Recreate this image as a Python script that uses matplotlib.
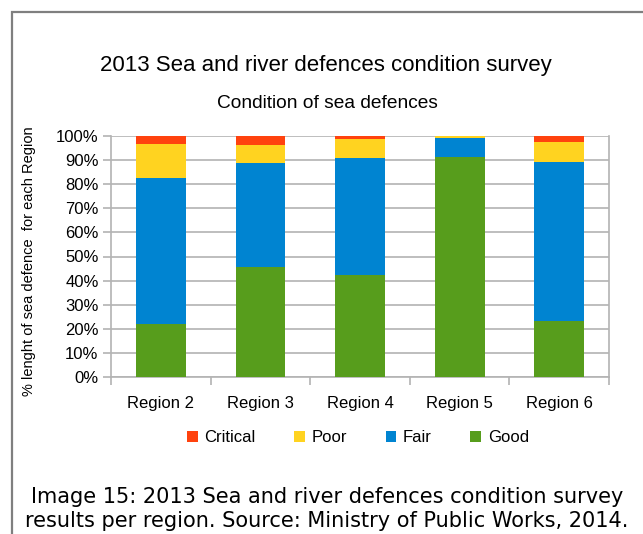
import matplotlib
matplotlib.use("Agg")
import numpy as np
from matplotlib import pyplot as plt
from matplotlib.patches import Rectangle

# data
regions = ["Region 2", "Region 3", "Region 4", "Region 5", "Region 6"]
good = [22.1, 45.6, 42.3, 91.3, 23.2]
fair = [60.5, 43.2, 48.6, 7.9, 66.0]
poor = [14.1, 7.5, 7.9, 0.8, 8.3]
critical = [3.3, 3.7, 1.2, 0.0, 2.5]
yticks = [0, 10, 20, 30, 40, 50, 60, 70, 80, 90, 100]

colors = {"Critical": "#ff420e", "Poor": "#ffd320", "Fair": "#0084d1", "Good": "#579d1c"}

W, H = 643, 534
fig = plt.figure(figsize=(W / 100, H / 100), dpi=100)
plt.rcParams['font.family'] = ['Liberation Sans', 'DejaVu Sans']

# outer frame of the chart object
fig.patches.append(Rectangle((12 / W, 0 - 0.01), 1.0, (H - 12) / H + 0.01,
                             transform=fig.transFigure, fill=False,
                             edgecolor="#7f7f7f", linewidth=1.6))

ax = fig.add_axes([111 / W, (H - 377) / H, 498 / W, 241 / H])
x = np.arange(len(regions))
bw = 0.5
ax.bar(x, good, bw, color=colors["Good"], label="Good", zorder=3)
b1 = np.array(good)
ax.bar(x, fair, bw, bottom=b1, color=colors["Fair"], label="Fair", zorder=3)
b2 = b1 + np.array(fair)
ax.bar(x, poor, bw, bottom=b2, color=colors["Poor"], label="Poor", zorder=3)
b3 = b2 + np.array(poor)
ax.bar(x, critical, bw, bottom=b3, color=colors["Critical"], label="Critical", zorder=3)

ax.set_xlim(-0.5, len(regions) - 0.5)
ax.set_ylim(0, 100)
ax.set_yticks(yticks)
ax.set_yticklabels([f"{v}%" for v in yticks], fontsize=12)
ax.set_xticks(x)
ax.set_xticklabels(regions, fontsize=12)
ax.set_xticks(np.arange(-0.5, len(regions), 1), minor=True)
ax.tick_params(axis="x", which="major", length=0, pad=14)
ax.tick_params(axis="x", which="minor", length=6, color="#b3b3b3", width=1.2)
ax.tick_params(axis="y", length=6, color="#b3b3b3", width=1.2, pad=3)
ax.grid(axis="y", color="#b3b3b3", linewidth=1.2, zorder=0)
for s in ax.spines.values():
    s.set_color("#b3b3b3")
    s.set_linewidth(1.2)
ax.spines["top"].set_visible(False)

ax.set_ylabel("% lenght of sea defence  for each Region", fontsize=10.5)
ax.yaxis.set_label_coords((36 - 111) / 498, 0.48)

fig.text(326 / W, 1 - 66 / H, "2013 Sea and river defences condition survey",
         ha="center", va="center", fontsize=16)
fig.text(327 / W, 1 - 103 / H, "Condition of sea defences",
         ha="center", va="center", fontsize=13.8)

handles, labels = ax.get_legend_handles_labels()
order = [3, 2, 1, 0]
fig.legend([handles[i] for i in order], [labels[i] for i in order],
           loc="center", bbox_to_anchor=(358 / W, 1 - 438 / H), ncol=4,
           frameon=False, fontsize=12, handlelength=0.65, handleheight=0.65,
           columnspacing=2.3, handletextpad=0.4)

fig.text(327 / W, 1 - 497 / H, "Image 15: 2013 Sea and river defences condition survey",
         ha="center", va="center", fontsize=15, family="DejaVu Sans")
fig.text(327 / W, 1 - 521 / H, "results per region. Source: Ministry of Public Works, 2014.",
         ha="center", va="center", fontsize=15, family="DejaVu Sans")

fig.savefig("out.png", dpi=100)
